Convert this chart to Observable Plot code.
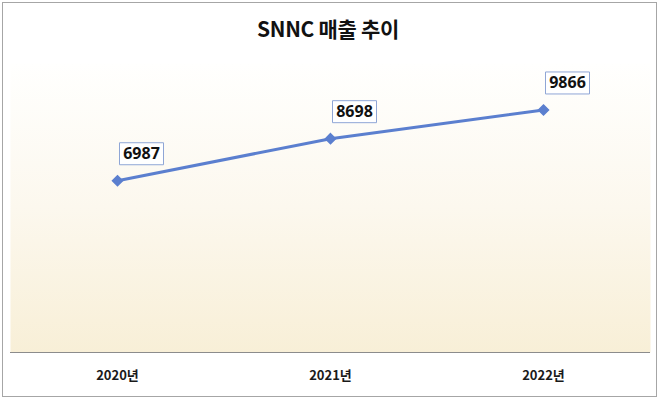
<!DOCTYPE html>
<html>
<head>
<meta charset="utf-8">
<script src="https://cdn.jsdelivr.net/npm/d3@7"></script>
<script src="https://cdn.jsdelivr.net/npm/@observablehq/plot@0.6"></script>
<style>
  html, body { margin: 0; padding: 0; background: #fff; }
  #wrap { position: relative; width: 660px; height: 399px; overflow: hidden; }
  #border { position: absolute; left: 2px; top: 2px; width: 653px; height: 393px; border: 1.5px solid #a6a6a6; box-sizing: content-box; }
  #title { position: absolute; left: 0; width: 656px; top: 13px; text-align: center;
           font-family: "Noto Sans CJK KR", sans-serif; font-weight: 700; font-size: 21px; color: #111; letter-spacing: -0.3px; }
  #chart { position: absolute; left: 0; top: 0; }
</style>
</head>
<body>
<div id="wrap">
  <div id="border"></div>
  <div id="chart"></div>
  <div id="title">SNNC 매출 추이</div>
</div>
<script>
const years = ["2020년", "2021년", "2022년"];
const sales = [6987, 8698, 9866];

const data = years.map((y, i) => ({year: y, value: sales[i]}));

const boxSymbol = {
  draw(ctx, size) { ctx.rect(-22, -11, 44, 22); }
};

const chart = Plot.plot({
  width: 660,
  height: 399,
  marginTop: 57,
  marginBottom: 47,
  marginLeft: 10,
  marginRight: 10,
  style: {background: "transparent", fontFamily: "\"Noto Sans CJK KR\", sans-serif"},
  x: {type: "point", domain: years, padding: 0.5, label: null, tickSize: 0, tickPadding: 18},
  y: {domain: [0, 12000], axis: null},
  marks: [
    Plot.frame({fill: "url(#bggrad)", stroke: null, insetTop: 6}),
    Plot.ruleY([0], {stroke: "#8c8c8c", strokeWidth: 1.2}),
    Plot.axisX({tickSize: 0, tickPadding: 18, fontSize: 13, fontWeight: "bold", fill: "#1a1a1a", label: null}),
    Plot.line(data, {x: "year", y: "value", stroke: "#5b7fcf", strokeWidth: 3}),
    Plot.dot(data, {x: "year", y: "value", symbol: "diamond2", r: 4.5, fill: "#5b7fcf", stroke: "#5b7fcf"}),
    Plot.dot(data, {x: "year", y: "value", symbol: boxSymbol, r: 5, fill: "#fff", stroke: "#8fa6d6", strokeWidth: 1, dx: 24, dy: -27}),
    Plot.text(data, {x: "year", y: "value", text: d => String(d.value), dx: 24, dy: -27, fontSize: 16, fontWeight: "bold", fill: "#111", fontFamily: "\"Noto Sans\", sans-serif"})
  ]
});

const ns = "http://www.w3.org/2000/svg";
const defs = document.createElementNS(ns, "defs");
defs.innerHTML = `<linearGradient id="bggrad" x1="0" y1="0" x2="0" y2="1">
  <stop offset="0" stop-color="#fffffe"/>
  <stop offset="0.5" stop-color="#fcf8ee"/>
  <stop offset="1" stop-color="#f8efd7"/>
</linearGradient>`;
chart.insertBefore(defs, chart.firstChild);
document.getElementById("chart").appendChild(chart);
</script>
</body>
</html>
